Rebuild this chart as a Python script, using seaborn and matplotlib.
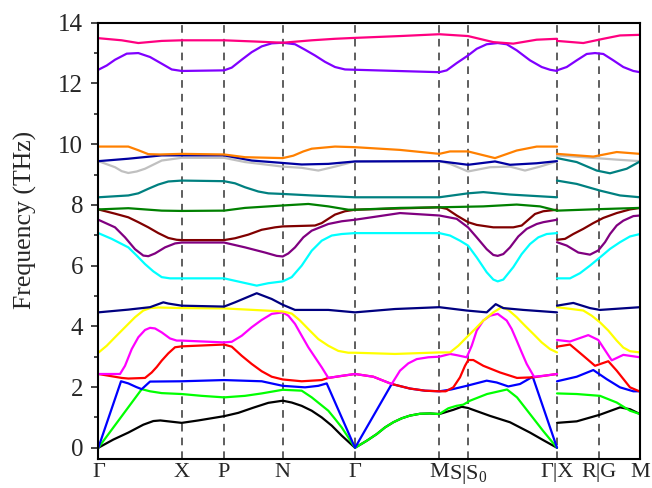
import numpy as np
import pandas as pd
import matplotlib
matplotlib.use("Agg")
import matplotlib.pyplot as plt
import seaborn as sns

# high-symmetry points along the k-path (path distance)
kticks = [0, 0.834, 1.257, 1.844, 2.567, 3.41, 3.697, 4.587, 5.01, 5.417]
klabels = ['Γ', 'X', 'P', 'N', 'Γ', 'M', 'S|S$_0$', 'Γ|X', 'R|G', 'M']

# bands: (k, frequency THz); piece A = Γ-X-P-N-Γ-M-S|S0-Γ, piece B = X-R|G-M
black_a = [(0, 0), (0.15, 0.27), (0.30, 0.50), (0.45, 0.76), (0.55, 0.88), (0.62, 0.90), (0.70, 0.87),
           (0.834, 0.82), (1.0, 0.90), (1.257, 1.04), (1.40, 1.15), (1.55, 1.32), (1.70, 1.48), (1.844, 1.55),
           (1.934, 1.49), (2.034, 1.38), (2.134, 1.22), (2.234, 1.0), (2.334, 0.73), (2.434, 0.40), (2.567, 0),
           (2.684, 0.23), (2.784, 0.45), (2.867, 0.67), (2.95, 0.84), (3.034, 0.97), (3.117, 1.06),
           (3.217, 1.12), (3.317, 1.13), (3.41, 1.11),
           (3.55, 1.25), (3.634, 1.35), (3.697, 1.31), (3.917, 1.05), (4.117, 0.84), (4.317, 0.5),
           (4.45, 0.25), (4.587, 0)]
black_b = [(4.587, 0.82), (4.784, 0.87), (5.017, 1.09), (5.217, 1.33), (5.317, 1.27), (5.417, 1.11)]

green_a = [(0, 0), (0.434, 1.93), (0.517, 1.86), (0.634, 1.80), (0.834, 1.77), (1.034, 1.71), (1.257, 1.66),
           (1.467, 1.71), (1.634, 1.79), (1.844, 1.91), (2.034, 1.88), (2.134, 1.66), (2.217, 1.44),
           (2.30, 1.22), (2.367, 0.95), (2.434, 0.67), (2.50, 0.34), (2.567, 0),
           (2.684, 0.23), (2.784, 0.45), (2.867, 0.67), (2.95, 0.84), (3.034, 0.97), (3.117, 1.06),
           (3.217, 1.12), (3.317, 1.13), (3.41, 1.11),
           (3.50, 1.30), (3.58, 1.38), (3.65, 1.42), (3.717, 1.55), (3.887, 1.77), (4.087, 1.92),
           (4.187, 1.66), (4.317, 1.11), (4.447, 0.56), (4.587, 0)]
green_b = [(4.587, 1.79), (4.784, 1.77), (5.017, 1.71), (5.184, 1.49), (5.317, 1.22), (5.417, 1.11)]

blue_a = [(0, 0), (0.227, 2.19), (0.30, 2.12), (0.38, 2.0), (0.434, 1.93), (0.517, 2.18), (0.834, 2.19),
          (1.257, 2.23), (1.634, 2.19), (1.844, 2.04), (2.067, 1.99), (2.20, 2.04), (2.284, 2.12), (2.567, 0),
          (2.934, 2.10), (3.117, 1.95), (3.267, 1.88), (3.41, 1.86), (3.53, 1.92), (3.684, 2.04),
          (3.884, 2.21), (3.984, 2.15), (4.10, 2.02), (4.217, 2.10), (4.344, 2.34), (4.587, 0)]
blue_b = [(4.587, 2.19), (4.784, 2.34), (4.95, 2.56), (5.084, 2.26), (5.217, 1.99), (5.35, 1.86), (5.417, 1.86)]

red_a = [(0, 2.43), (0.234, 2.30), (0.30, 2.28), (0.467, 2.30), (0.534, 2.48), (0.584, 2.66), (0.634, 2.87),
         (0.70, 3.11), (0.767, 3.31), (0.834, 3.34), (1.257, 3.40), (1.334, 3.33), (1.434, 3.03),
         (1.534, 2.76), (1.634, 2.52), (1.734, 2.34), (1.844, 2.25),
         (2.034, 2.19), (2.234, 2.23), (2.30, 2.30), (2.567, 2.43),
         (2.75, 2.34), (2.934, 2.10), (3.117, 1.95), (3.267, 1.88), (3.41, 1.86), (3.474, 1.86),
         (3.55, 1.99), (3.617, 2.32), (3.667, 2.70), (3.70, 2.89), (3.75, 2.89), (3.85, 2.70),
         (4.017, 2.48), (4.187, 2.30), (4.35, 2.32), (4.587, 2.43)]
red_b = [(4.587, 3.33), (4.717, 3.40), (4.85, 3.03), (4.967, 2.70), (5.10, 2.85), (5.184, 2.54),
         (5.317, 1.99), (5.417, 1.85)]

magenta_a = [(0, 2.43), (0.217, 2.43), (0.267, 2.70), (0.334, 3.25), (0.40, 3.64), (0.467, 3.88),
             (0.517, 3.95), (0.567, 3.93), (0.634, 3.80), (0.717, 3.60), (0.784, 3.53), (0.834, 3.53),
             (1.257, 3.47), (1.334, 3.49), (1.434, 3.69), (1.534, 3.97), (1.634, 4.21), (1.734, 4.41),
             (1.844, 4.46), (1.90, 4.35), (1.967, 4.08), (2.034, 3.69), (2.10, 3.31), (2.167, 2.98),
             (2.234, 2.65), (2.30, 2.30), (2.434, 2.37), (2.567, 2.43),
             (2.75, 2.34), (2.934, 2.10), (3.017, 2.54), (3.10, 2.78), (3.184, 2.92), (3.30, 2.98),
             (3.41, 3.0), (3.517, 3.09), (3.584, 3.05), (3.684, 2.98), (3.734, 3.36), (3.784, 3.86),
             (3.85, 4.19), (3.917, 4.35), (3.994, 4.41), (4.084, 4.19), (4.134, 3.91), (4.184, 3.53),
             (4.234, 3.14), (4.284, 2.76), (4.357, 2.34), (4.45, 2.37), (4.587, 2.43)]
magenta_b = [(4.587, 3.55), (4.717, 3.50), (4.90, 3.71), (5.0, 3.55), (5.134, 2.88), (5.25, 3.06), (5.417, 2.98)]

yellow_a = [(0, 3.13), (0.084, 3.36), (0.167, 3.64), (0.267, 3.97), (0.367, 4.30), (0.45, 4.52), (0.517, 4.60),
            (0.60, 4.62), (0.834, 4.60), (1.257, 4.59), (1.844, 4.49), (1.934, 4.42), (2.017, 4.19),
            (2.10, 3.91), (2.20, 3.58), (2.30, 3.36), (2.40, 3.19), (2.50, 3.13), (2.567, 3.13),
            (2.967, 3.09), (3.41, 3.14), (3.517, 3.14), (3.60, 3.36), (3.684, 3.64), (3.767, 3.91),
            (3.85, 4.19), (3.95, 4.46), (4.034, 4.63), (4.10, 4.54), (4.184, 4.30), (4.267, 4.02),
            (4.35, 3.75), (4.434, 3.47), (4.517, 3.25), (4.587, 3.14)]
yellow_b = [(4.587, 4.63), (4.85, 4.52), (4.934, 4.35), (5.017, 4.13), (5.10, 3.86), (5.184, 3.53),
            (5.25, 3.30), (5.317, 3.18), (5.417, 3.14)]

navy_a = [(0, 4.46), (0.30, 4.55), (0.517, 4.63), (0.65, 4.79), (0.70, 4.75), (0.834, 4.68), (1.257, 4.65),
          (1.367, 4.79), (1.584, 5.09), (1.734, 4.90), (1.844, 4.71), (1.967, 4.54), (2.30, 4.54),
          (2.567, 4.46), (2.967, 4.57), (3.41, 4.63), (3.684, 4.52), (3.884, 4.46), (3.974, 4.73),
          (4.05, 4.60), (4.25, 4.54), (4.587, 4.46)]
navy_b = [(4.587, 4.68), (4.75, 4.77), (4.917, 4.60), (5.017, 4.54), (5.417, 4.63)]

cyan_a = [(0, 7.07), (0.134, 6.88), (0.30, 6.60), (0.384, 6.33), (0.467, 6.05), (0.55, 5.81), (0.634, 5.62),
          (0.717, 5.58), (0.834, 5.58), (1.257, 5.58), (1.434, 5.45), (1.584, 5.34), (1.70, 5.42),
          (1.844, 5.48), (1.934, 5.62), (2.034, 6.0), (2.134, 6.49), (2.234, 6.82), (2.334, 6.99),
          (2.434, 7.04), (2.567, 7.07), (3.41, 7.07), (3.517, 6.99), (3.617, 6.82), (3.697, 6.66),
          (3.784, 6.27), (3.884, 5.78), (3.95, 5.54), (3.994, 5.48), (4.05, 5.54), (4.15, 5.95),
          (4.234, 6.38), (4.317, 6.71), (4.40, 6.93), (4.484, 7.04), (4.587, 7.07)]
cyan_b = [(4.587, 5.58), (4.717, 5.58), (4.817, 5.75), (4.917, 6.0), (5.017, 6.27), (5.117, 6.55),
          (5.217, 6.77), (5.317, 6.96), (5.417, 7.04)]

purple_a = [(0, 7.51), (0.167, 7.26), (0.267, 6.93), (0.367, 6.54), (0.45, 6.33), (0.50, 6.31), (0.567, 6.40),
            (0.667, 6.60), (0.767, 6.73), (0.834, 6.76), (1.257, 6.76), (1.467, 6.60), (1.667, 6.43),
            (1.784, 6.32), (1.844, 6.30), (1.90, 6.40), (1.967, 6.60), (2.05, 6.93), (2.134, 7.15),
            (2.30, 7.37), (2.434, 7.46), (2.567, 7.51), (3.017, 7.73), (3.41, 7.65), (3.584, 7.54),
            (3.697, 7.26), (3.784, 6.93), (3.884, 6.54), (3.95, 6.35), (3.994, 6.32), (4.05, 6.38),
            (4.117, 6.60), (4.20, 6.96), (4.284, 7.21), (4.384, 7.37), (4.45, 7.43), (4.587, 7.51)]
purple_b = [(4.587, 6.77), (4.684, 6.66), (4.80, 6.43), (4.917, 6.36), (5.0, 6.50), (5.067, 6.77),
            (5.117, 7.04), (5.184, 7.32), (5.25, 7.48), (5.35, 7.63), (5.417, 7.65)]

wine_a = [(0, 7.85), (0.167, 7.71), (0.30, 7.59), (0.40, 7.43), (0.50, 7.26), (0.60, 7.07), (0.70, 6.91),
          (0.784, 6.85), (0.834, 6.84), (1.257, 6.84), (1.367, 6.90), (1.50, 7.02), (1.634, 7.18),
          (1.767, 7.26), (1.844, 7.29), (2.167, 7.32), (2.234, 7.40), (2.30, 7.54), (2.367, 7.68),
          (2.467, 7.79), (2.567, 7.84), (3.41, 7.92), (3.484, 7.87), (3.584, 7.65), (3.697, 7.43),
          (3.784, 7.34), (3.95, 7.26), (4.15, 7.26), (4.234, 7.32), (4.30, 7.51), (4.367, 7.70),
          (4.45, 7.79), (4.587, 7.84)]
wine_b = [(4.587, 6.85), (4.667, 6.88), (4.75, 7.04), (4.85, 7.21), (4.95, 7.40), (5.05, 7.57),
          (5.184, 7.73), (5.317, 7.85), (5.417, 7.90)]

dgreen_a = [(0, 7.85), (0.30, 7.89), (0.634, 7.81), (0.834, 7.80), (1.257, 7.81), (1.467, 7.90),
            (1.844, 7.98), (2.10, 8.03), (2.30, 7.95), (2.50, 7.84), (2.567, 7.84), (3.017, 7.90),
            (3.41, 7.92), (3.85, 7.95), (4.184, 8.01), (4.417, 7.95), (4.587, 7.81)]
dgreen_b = [(4.587, 7.81), (5.017, 7.86), (5.417, 7.90)]

teal_a = [(0, 8.25), (0.30, 8.31), (0.40, 8.38), (0.50, 8.53), (0.60, 8.67), (0.70, 8.77), (0.834, 8.80),
          (1.257, 8.78), (1.367, 8.71), (1.467, 8.58), (1.60, 8.44), (1.70, 8.38), (1.844, 8.36),
          (2.134, 8.31), (2.567, 8.25), (3.41, 8.25), (3.697, 8.38), (3.85, 8.42), (4.117, 8.34),
          (4.587, 8.25)]
teal_b = [(4.587, 8.80), (4.784, 8.69), (5.017, 8.47), (5.217, 8.31), (5.417, 8.25)]

silver_a = [(0, 9.44), (0.067, 9.36), (0.167, 9.24), (0.234, 9.11), (0.30, 9.05), (0.384, 9.10),
            (0.467, 9.19), (0.634, 9.46), (0.834, 9.55), (1.257, 9.55), (1.467, 9.41), (1.844, 9.26),
            (2.034, 9.22), (2.20, 9.13), (2.367, 9.26), (2.567, 9.43),
            (3.41, 9.44), (3.517, 9.35), (3.697, 9.10), (3.917, 9.24), (4.117, 9.26), (4.267, 9.13),
            (4.417, 9.26), (4.587, 9.43)]
silver_b = [(4.587, 9.63), (4.85, 9.57), (5.184, 9.49), (5.417, 9.44)]

navy2_a = [(0, 9.44), (0.30, 9.52), (0.634, 9.63), (0.834, 9.63), (1.257, 9.63), (1.534, 9.46), (1.844, 9.38),
           (2.034, 9.33), (2.30, 9.35), (2.567, 9.43), (3.41, 9.44), (3.697, 9.32), (3.967, 9.43),
           (4.117, 9.32), (4.384, 9.37), (4.587, 9.44)]
teal2_b = [(4.587, 9.54), (4.784, 9.41), (4.984, 9.13), (5.117, 9.04), (5.284, 9.19), (5.417, 9.43)]

orange_a = [(0, 9.92), (0.30, 9.92), (0.40, 9.80), (0.50, 9.67), (0.617, 9.66), (0.834, 9.68), (1.257, 9.66),
            (1.467, 9.57), (1.844, 9.54), (1.95, 9.62), (2.05, 9.76), (2.134, 9.85), (2.367, 9.92),
            (2.567, 9.90), (3.017, 9.81), (3.41, 9.68), (3.517, 9.76), (3.697, 9.76), (3.967, 9.54),
            (4.184, 9.79), (4.384, 9.92), (4.587, 9.92)]
orange_b = [(4.587, 9.68), (4.95, 9.59), (5.184, 9.74), (5.417, 9.68)]

violet_a = [(0, 12.45), (0.084, 12.59), (0.167, 12.78), (0.284, 12.98), (0.40, 13.0), (0.517, 12.87),
            (0.634, 12.65), (0.734, 12.46), (0.834, 12.41), (1.257, 12.43), (1.334, 12.52), (1.434, 12.78),
            (1.534, 13.03), (1.634, 13.22), (1.734, 13.32), (1.844, 13.34), (1.967, 13.29), (2.067, 13.11),
            (2.167, 12.92), (2.267, 12.71), (2.367, 12.54), (2.467, 12.46), (2.567, 12.45),
            (3.41, 12.37), (3.484, 12.43), (3.584, 12.67), (3.697, 12.92), (3.784, 13.14), (3.884, 13.29),
            (3.994, 13.33), (4.084, 13.29), (4.184, 13.09), (4.317, 12.76), (4.434, 12.54), (4.517, 12.45),
            (4.587, 12.41)]
violet_b = [(4.587, 12.43), (4.684, 12.54), (4.784, 12.76), (4.884, 12.97), (4.967, 13.0), (5.05, 12.97),
            (5.15, 12.76), (5.25, 12.54), (5.35, 12.41), (5.417, 12.37)]

pink_a = [(0, 13.49), (0.234, 13.42), (0.40, 13.33), (0.634, 13.40), (0.834, 13.42), (1.257, 13.42),
          (1.567, 13.38), (1.844, 13.34), (2.134, 13.42), (2.367, 13.47), (2.567, 13.50), (3.017, 13.56),
          (3.41, 13.62), (3.697, 13.56), (3.95, 13.36), (4.15, 13.31), (4.384, 13.44), (4.587, 13.47)]
pink_b = [(4.587, 13.40), (4.85, 13.33), (5.05, 13.47), (5.217, 13.58), (5.417, 13.60)]

bands = [
    ('b01', '#000000', black_a, black_b),
    ('b02', '#00FF00', green_a, green_b),
    ('b03', '#0000FF', blue_a, blue_b),
    ('b04', '#FF0000', red_a, red_b),
    ('b05', '#FF00FF', magenta_a, magenta_b),
    ('b06', '#FFFF00', yellow_a, yellow_b),
    ('b07', '#000080', navy_a, navy_b),
    ('b08', '#00FFFF', cyan_a, cyan_b),
    ('b09', '#800080', purple_a, purple_b),
    ('b10', '#800000', wine_a, wine_b),
    ('b11', '#008000', dgreen_a, dgreen_b),
    ('b12', '#008080', teal_a, teal_b),
    ('b13', '#C0C0C0', silver_a, silver_b),
    ('b14', '#0000A0', navy2_a, []),
    ('b14t', '#008080', [], teal2_b),
    ('b15', '#FF8000', orange_a, orange_b),
    ('b16', '#8000FF', violet_a, violet_b),
    ('b17', '#FF0080', pink_a, pink_b),
]

rows = []
for name, col, pa, pb in bands:
    for piece, pts in (('A', pa), ('B', pb)):
        for k, f in pts:
            rows.append((name, piece, k, f))
df = pd.DataFrame(rows, columns=['band', 'piece', 'k', 'freq'])
palette = {name: col for name, col, _, _ in bands}
order = [name for name, _, _, _ in bands]

sns.set_style("white")
plt.rcParams['font.family'] = ['Liberation Serif', 'DejaVu Serif']
plt.rcParams['mathtext.fontset'] = 'custom'
plt.rcParams['mathtext.rm'] = 'Liberation Serif'
plt.rcParams['mathtext.it'] = 'Liberation Serif:italic'

fig = plt.figure(figsize=(6.52, 4.88), dpi=100)
ax = fig.add_axes([0.1508, 0.0588, 0.8308, 0.8947])

for kt in kticks[1:-1]:
    ax.axvline(kt, color='#333333', ls=(0, (5, 4)), lw=1.1, zorder=1)

sns.lineplot(data=df, x='k', y='freq', hue='band', units='piece', estimator=None, sort=False,
             palette=palette, hue_order=order, legend=False, lw=1.6, ax=ax, zorder=2)

ax.set_xlim(0, 5.417)
ax.set_ylim(-0.38, 14)
ax.set_xticks(kticks)
ax.set_xticklabels(klabels, fontsize=16)
ax.set_yticks(range(0, 15, 2))
ax.set_yticks(range(1, 15, 2), minor=True)
ax.tick_params(axis='y', which='major', direction='out', length=5, width=1.2, labelsize=18, pad=6, left=True)
ax.tick_params(axis='y', which='minor', direction='out', length=3, width=1.2, left=True)
ax.tick_params(axis='x', length=0, pad=3)
ax.set_xlabel('')
ax.set_ylabel('Frequency (THz)', fontsize=18.5)
ax.yaxis.set_label_coords(-0.113, 0.548)
for s in ax.spines.values():
    s.set_linewidth(1.5)
    s.set_color('black')

fig.savefig('out.png', dpi=100)
